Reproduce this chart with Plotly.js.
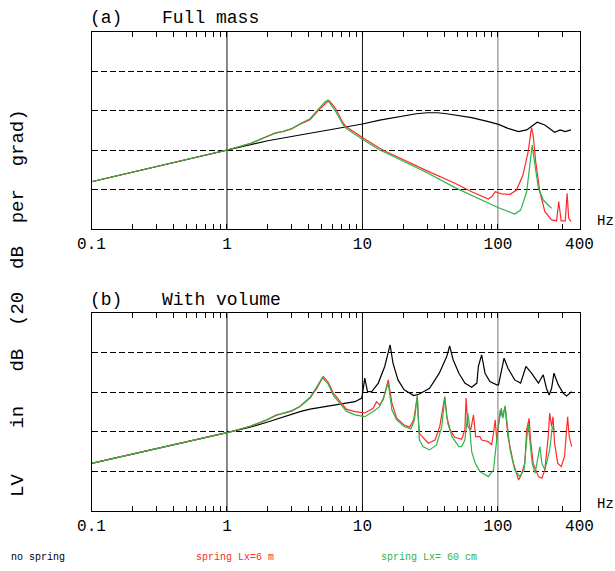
<!DOCTYPE html>
<html><head><meta charset="utf-8">
<script src="https://cdn.plot.ly/plotly-3.0.1.min.js"></script>
<style>html,body{margin:0;padding:0;background:#fff}</style>
</head><body><div id="chart" style="width:615px;height:571px"></div>
<script>
// ---------- Panel (a): Full mass ----------
const aNoSpringHz = [0.1, 0.2, 0.5, 1, 1.5, 2, 3.46, 5, 7, 10, 13.4, 18.9, 25, 30, 36, 41.8, 48.2, 64, 85, 101, 118.6, 142, 163, 180, 195, 222, 262, 288, 314, 346];
const aNoSpringDb = [24.0, 28.8, 35.3, 40.1, 42.6, 44.8, 47.7, 49.6, 51.5, 53.3, 55.3, 57.0, 58.5, 59.0, 59.0, 58.5, 57.9, 56.5, 54.5, 53.1, 51.1, 49.4, 50.3, 52.5, 54.2, 52.8, 49.1, 50.3, 49.4, 50.3];

const aSpring6mHz = [0.1, 0.2, 0.5, 1, 1.5, 1.97, 2.3, 2.6, 3.0, 3.46, 4.1, 4.75, 5.3, 5.66, 6.3, 7.2, 7.6, 10, 13.4, 15, 30, 48.2, 64, 85, 90, 95.5, 106, 123, 137, 153, 167, 177, 182, 190, 204, 222, 249, 271, 281, 293, 314, 324, 333, 346];
const aSpring6mDb = [24.0, 28.8, 35.3, 40.1, 43.5, 46.9, 48.9, 49.4, 50.8, 53.2, 55.5, 60.4, 63.5, 65.3, 61.4, 53.7, 51.9, 46.4, 41.0, 39.2, 29.5, 23.2, 18.9, 15.2, 16.5, 18.9, 17.8, 17.6, 19.8, 27.4, 39.2, 51.5, 47.7, 34.2, 18.9, 8.8, 4.6, 4.1, 13.9, 4.1, 4.1, 18.1, 5.4, 3.7];

const aSpring60cmHz = [0.1, 0.2, 0.5, 1, 1.5, 1.97, 2.3, 2.6, 3.0, 3.46, 4.1, 4.75, 5.3, 5.55, 6.3, 7.2, 7.6, 10, 13.4, 15, 30, 48.2, 85, 101, 133, 147, 163, 172, 179, 186, 199, 216, 249];
const aSpring60cmDb = [24.0, 28.8, 35.3, 40.1, 43.5, 46.7, 48.7, 49.6, 51.0, 53.4, 56.0, 61.0, 64.6, 65.3, 60.0, 52.8, 51.0, 45.6, 40.1, 38.6, 28.6, 21.0, 13.0, 10.8, 7.6, 9.6, 18.9, 32.5, 42.6, 34.2, 20.8, 14.7, 10.5];

// ---------- Panel (b): With volume ----------
const bNoSpringHz = [0.1, 0.2, 0.5, 1, 1.5, 2, 3.46, 4.1, 6, 8.8, 9.9, 10.4, 10.9, 11.7, 13.1, 14.6, 16.0, 16.8, 18.3, 20.3, 23.9, 26.3, 31.3, 36.9, 41.9, 44.0, 46.7, 51.5, 57.0, 64.0, 69.9, 71.7, 75.8, 80.3, 87.2, 98, 101, 106, 111, 118.6, 133, 147, 161, 177, 199, 216, 228, 239, 249, 259, 279, 303, 321, 350];
const bNoSpringDb = [24.1, 28.9, 35.0, 39.6, 42.5, 45.0, 50.3, 51.5, 53.5, 55.3, 57.1, 67.2, 60.4, 60.4, 64.7, 73.1, 84.0, 74.8, 66.3, 61.3, 58.4, 59.2, 62.1, 69.7, 78.1, 83.5, 76.5, 69.7, 64.7, 62.6, 64.7, 73.1, 79.0, 69.7, 65.5, 63.8, 63.8, 71.4, 77.3, 72.2, 66.3, 64.7, 73.1, 69.7, 64.7, 68.9, 62.1, 58.7, 62.1, 69.7, 63.8, 59.6, 58.2, 60.4];

const bSpring6mHz = [0.1, 0.2, 0.5, 1, 1.5, 1.97, 2.32, 2.6, 3.0, 3.46, 4.1, 4.6, 5.14, 5.6, 6.1, 7.6, 8.8, 10.4, 12.0, 12.7, 13.4, 14.2, 15.5, 16.5, 17.9, 20.3, 22.3, 23.9, 24.6, 25.4, 25.8, 26.3, 30.6, 34.3, 37.2, 39.5, 40.5, 41.9, 44.4, 48.0, 54.0, 57.0, 58.2, 60, 63.0, 66, 68.5, 73.6, 75.8, 85, 89.9, 93.4, 95.5, 98, 104, 108, 113, 118.6, 130, 142, 147, 158, 163, 170, 174, 182, 199, 211, 222, 235, 241, 249, 255, 262, 276, 293, 310, 327, 336, 350];
const bSpring6mDb = [24.1, 28.9, 35.0, 39.6, 43.0, 46.1, 48.6, 49.3, 50.5, 52.8, 57.1, 62.0, 68.0, 65.0, 59.6, 51.5, 50.3, 49.6, 52.0, 55.3, 53.7, 56.2, 66.3, 54.5, 46.9, 43.5, 42.4, 46.1, 51.1, 57.9, 47.7, 39.3, 34.3, 35.9, 42.7, 52.8, 57.9, 47.7, 41.0, 37.3, 36.3, 41.0, 57.1, 42.7, 41.0, 48.6, 37.6, 37.6, 35.9, 35.1, 33.4, 41.0, 46.1, 35.9, 51.1, 47.7, 52.8, 37.6, 24.2, 15.7, 17.4, 24.2, 41.0, 46.9, 35.9, 24.2, 17.4, 16.6, 20.8, 37.6, 49.5, 42.7, 47.7, 34.3, 24.2, 22.4, 27.5, 47.7, 37.6, 32.6];

const bSpring60cmHz = [0.1, 0.2, 0.5, 1, 1.5, 1.97, 2.32, 2.6, 3.0, 3.46, 4.1, 4.6, 5.05, 5.6, 6.1, 7.6, 8.8, 10.4, 12.0, 13.4, 14.4, 15.5, 16.5, 17.9, 20.3, 22.8, 24.2, 25.4, 26.3, 28, 31.3, 35.2, 38.5, 40.5, 42.6, 45.8, 51.5, 54.0, 57.0, 60, 61.8, 64.0, 68.1, 73.6, 85, 92.8, 96, 99.7, 106, 108.8, 113, 116, 123, 133, 145, 156, 163, 167, 172, 179, 188, 199, 204, 211, 222, 241, 252, 262];
const bSpring60cmDb = [24.1, 28.9, 35.0, 39.6, 43.0, 46.1, 48.4, 49.5, 50.8, 53.0, 57.5, 62.8, 67.5, 64.0, 58.5, 50.5, 48.6, 47.7, 50.3, 52.8, 57.9, 64.7, 51.1, 46.1, 42.7, 41.5, 46.1, 58.7, 35.9, 32.6, 30.9, 33.4, 42.7, 57.1, 44.4, 37.6, 32.6, 32.6, 35.9, 49.5, 42.7, 30.0, 24.0, 19.9, 17.4, 20.8, 29.2, 41.0, 52.0, 46.9, 53.2, 46.1, 30.9, 20.8, 17.4, 20.8, 35.9, 44.4, 35.9, 24.2, 19.1, 27.5, 32.6, 24.2, 20.8, 30.9, 42.7, 41.0];

// axis ticks: a mark at every 1..9 per decade, labels only on the decades and 400
const tickVals = [0.1, 0.2, 0.3, 0.4, 0.5, 0.6, 0.7, 0.8, 0.9, 1, 2, 3, 4, 5, 6, 7, 8, 9, 10, 20, 30, 40, 50, 60, 70, 80, 90, 100, 200, 300, 400];
const tickText = ['0.1', '', '', '', '', '', '', '', '', '1', '', '', '', '', '', '', '', '', '10', '', '', '', '', '', '', '', '', '100', '', '', '400'];
const decadeLines = [1, 10, 100];
const decadeLineColors = ['#111', '#111', '#777'];
const seriesNames = ['no spring', 'spring Lx=6 m', 'spring Lx= 60 cm'];
const seriesColors = ['#000000', '#ff2a2a', '#2fb34a'];

const FONT = 'Liberation Mono, DejaVu Sans Mono, monospace';

function tr(x, y, i, xa, ya) {
  return {x: x, y: y, type: 'scatter', mode: 'lines', xaxis: xa, yaxis: ya,
    name: seriesNames[i], showlegend: false,
    line: {color: seriesColors[i], width: 1.2}};
}

const data = [
  tr(aNoSpringHz, aNoSpringDb, 0, 'x', 'y'),
  tr(aSpring6mHz, aSpring6mDb, 1, 'x', 'y'),
  tr(aSpring60cmHz, aSpring60cmDb, 2, 'x', 'y'),
  tr(bNoSpringHz, bNoSpringDb, 0, 'x2', 'y2'),
  tr(bSpring6mHz, bSpring6mDb, 1, 'x2', 'y2'),
  tr(bSpring60cmHz, bSpring60cmDb, 2, 'x2', 'y2')
];

// small non-zero margins; domains computed from target pixel positions
const M = {l: 2, r: 2, t: 2, b: 2};
const W = 615 - M.l - M.r, H = 571 - M.t - M.b;
function dx(px) { return (px - M.l) / W; }
function dy(py) { return (571 - M.b - py) / H; }

function xax(anchor, dom) {
  return {type: 'log', range: [-1, Math.log10(400)], domain: dom, anchor: anchor,
    tickmode: 'array', tickvals: tickVals, ticktext: tickText,
    ticks: 'inside', ticklen: 5, tickwidth: 1, tickcolor: '#000',
    showgrid: false,
    showline: true, mirror: 'allticks', linecolor: '#000',
    zeroline: false, tickfont: {family: FONT, size: 16, color: '#000'}};
}
function yax(anchor, dom) {
  return {range: [0, 100], dtick: 20, tick0: 0, domain: dom, anchor: anchor,
    showticklabels: false, ticks: '', showgrid: true, gridcolor: '#000', gridwidth: 1,
    griddash: '6px,3px', showline: true, mirror: true, linecolor: '#000',
    zeroline: false};
}

// decade reference lines drawn through the x scale
const shapes = [];
['x', 'x2'].forEach(function (xr, k) {
  const yr = k === 0 ? 'y domain' : 'y2 domain';
  decadeLines.forEach(function (v, j) {
    shapes.push({type: 'line', xref: xr, yref: yr, x0: v, x1: v, y0: 0, y1: 1,
      line: {color: decadeLineColors[j], width: 1}, layer: 'below'});
  });
});

const xDom = [dx(91.5), dx(579.5)];
function ann(text, x, y, size, color, anchor, extra) {
  return Object.assign({text: text, xref: 'paper', yref: 'paper', x: dx(x), y: dy(y),
    xanchor: anchor || 'left', yanchor: 'middle', showarrow: false,
    font: {family: FONT, size: size, color: color || '#000'}}, extra || {});
}
const S = '\u00a0';
const ytitle = 'LV' + S.repeat(4) + 'in' + S.repeat(3) + 'dB' + S.repeat(2) + '(20' + S.repeat(2) + 'dB' + S.repeat(2) + 'per' + S.repeat(2) + 'grad)';

const layout = {
  width: 615, height: 571,
  margin: M,
  font: {family: FONT, color: '#000'},
  showlegend: false,
  xaxis: xax('y', xDom),
  yaxis: yax('x', [dy(229), dy(32)]),
  xaxis2: xax('y2', xDom),
  yaxis2: yax('x2', [dy(511), dy(313.3)]),
  shapes: shapes,
  annotations: [
    ann('(a)', 88, 18, 18),
    ann('Full mass', 160, 18, 18),
    ann('(b)', 88, 300, 18),
    ann('With volume', 160, 300, 18),
    ann('Hz', 605, 221, 14, '#000', 'center'),
    ann('Hz', 605, 504, 14, '#000', 'center'),
    ann(seriesNames[0], 9, 557, 10, seriesColors[0]),
    ann(seriesNames[1], 194, 557, 10, seriesColors[1]),
    ann(seriesNames[2], 379, 557, 10, seriesColors[2]),
    ann(ytitle, 18, 303, 19, '#000', 'center', {textangle: -90})
  ]
};

Plotly.newPlot('chart', data, layout, {staticPlot: true});
</script></body></html>
